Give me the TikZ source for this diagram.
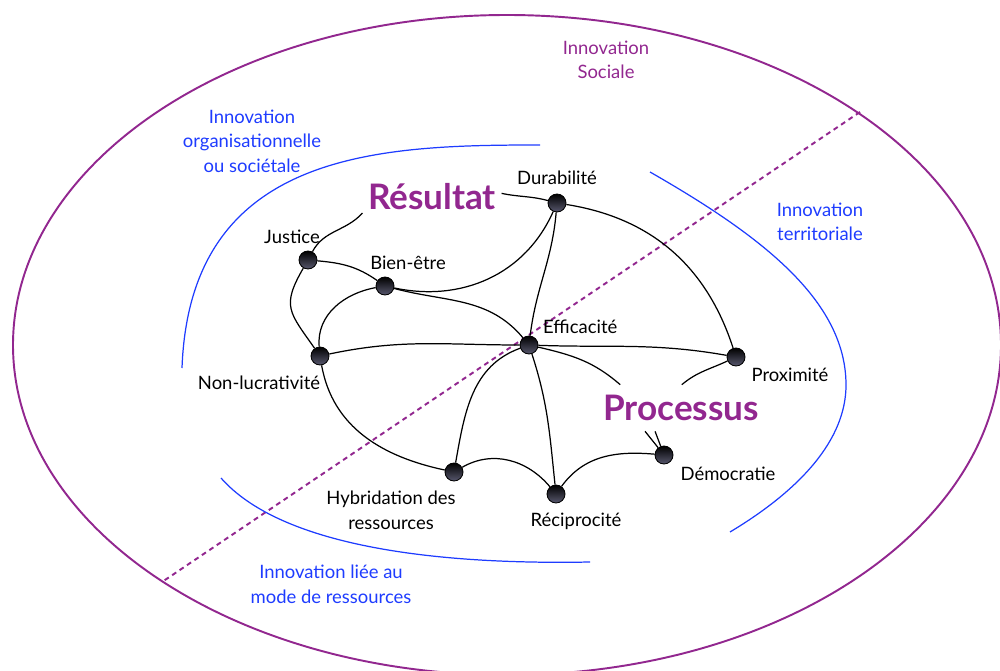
\documentclass[tikz,border=0pt]{standalone}
\usepackage{fontspec}
\setmainfont{Lato}
\definecolor{socviolet}{RGB}{146,39,143}
\definecolor{innoblue}{RGB}{30,60,255}
\definecolor{ballgrey}{RGB}{88,88,110}

\begin{document}
\begin{tikzpicture}[x=0.02cm, y=0.02cm,
	ball/.style={circle, draw=black, line width=0.5pt, inner sep=0pt, minimum size=0.36cm, top color=black, bottom color=ballgrey},
	word/.style={font=\fontsize{10.5}{14}\selectfont, align=center, inner sep=1pt},
	blueword/.style={word, text=innoblue},
	heading/.style={font=\fontsize{20}{22}\selectfont\bfseries, text=socviolet, inner sep=3pt, minimum height=0.92cm},
	link/.style={black, line width=0.7pt}]
			\useasboundingbox (0,0) rectangle (1000,670);
			% outer field and the diagonal split
			\draw[socviolet, line width=1.1pt] (507,325) ellipse [x radius=494, y radius=330];
			\draw[socviolet, line width=1.1pt, dash pattern=on 2.8pt off 2.3pt] (860,558) -- (162,88);
			% the three inner arcs
			\draw[innoblue, line width=0.7pt] (182,302) .. controls (190,520) and (380,525) .. (540,525);
			\draw[innoblue, line width=0.7pt] (650,498) .. controls (760,435) and (846,370) .. (846,285) .. controls (846,230) and (800,180) .. (730,138);
			\draw[innoblue, line width=0.7pt] (221,192) .. controls (280,125) and (430,105) .. (590,108);
			\node[word, text=socviolet] (sociale) at (606,610) {Innovation\\Sociale};
			\node[blueword] (orga) at (252,529) {Innovation\\organisationnelle\\ou sociétale};
			\node[blueword] (terri) at (820,448) {Innovation\\territoriale};
			\node[blueword] (mode) at (331,86) {Innovation liée au\\mode de ressources};
			\node[heading] (res) at (432,473) {Résultat};
			\node[heading] (proc) at (681,262) {Processus};
			% the balls
			\foreach \n/\x/\y in {dur/557/467, jus/308/410, bien/385/384, eff/529/325, nonl/320/314, prox/736/313, demo/664/215, reci/556/176, hyb/454/198}
			\node[ball] (\n) at (\x,\y) {};
			\node[word] (ldur) at (557,492) {Durabilité};
			\node[word] (ljus) at (292,433) {Justice};
			\node[word] (lbien) at (408,407) {Bien-être};
			\node[word, anchor=west] (leff) at (541,343) {Efficacité};
			\node[word] (lnonl) at (259,287) {Non-lucrativité};
			\node[word] (lprox) at (790,295) {Proximité};
			\node[word] (ldemo) at (728,196) {Démocratie};
			\node[word] (lreci) at (576,149) {Réciprocité};
			\node[word] (lhyb) at (391,160) {Hybridation des\\ressources};
			% links
			\foreach \a/\b/\o/\i in {res.193/jus/228/62, res.3/dur/-12/165, jus/bien/-5/145, bien/nonl/190/95, bien/dur/-12/246, bien/eff/-15/130, dur/eff/265/83, nonl/eff/12/180, eff/hyb/200/80, eff/reci/-72/96, eff/proc.159/-13/139, eff/prox/-2/170, dur/prox/-9/108, proc.88/prox/40/205, reci/demo/54/175, hyb/reci/30/130, nonl/hyb/-80/168}
			\draw[link] (\a) to[out=\o, in=\i] (\b);
			\draw[link] (jus) to[out=240, in=125, looseness=1.4] (nonl);
			\draw[link] (proc.213) -- (demo);
			\draw[link] (proc.222) -- (demo);
			\end{tikzpicture}
\end{document}
